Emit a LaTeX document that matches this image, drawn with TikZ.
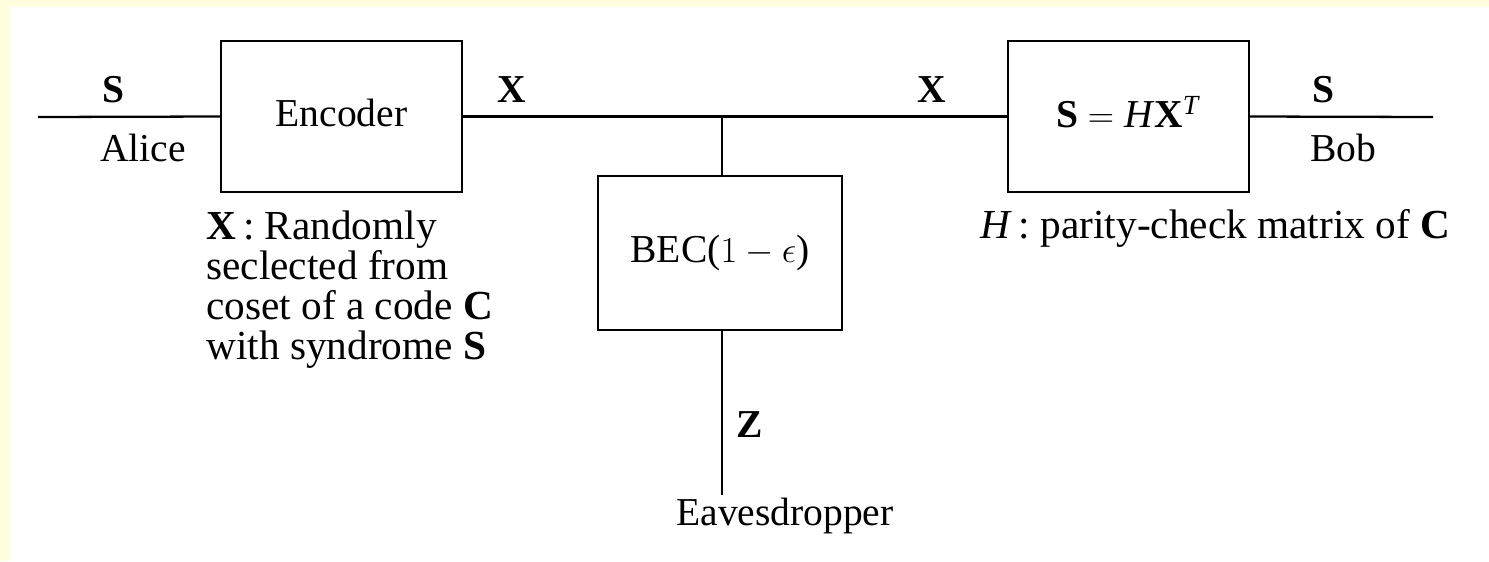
\documentclass[tikz,border=0pt]{standalone}
\usepackage{fontspec}
\setmainfont{Liberation Serif}
\usetikzlibrary{positioning}
\definecolor{pagebg}{HTML}{FFFFE0}

\begin{document}
\begin{tikzpicture}[
        blockbox/.style={draw, line width=1.3pt, minimum width=4.82cm, minimum height=3.02cm,
                         font=\fontsize{22.5}{27}\selectfont},
        lbl/.style={font=\fontsize{22.5}{27}\selectfont, inner sep=0pt},
        note/.style={font=\fontsize{23.5}{22.8}\selectfont, inner sep=0pt, align=left},
        wire/.style={line width=1.3pt}
    ]
        % page and margins
        \useasboundingbox (0,0) rectangle (29.78,-11.22);
        \fill[pagebg] (0,0) rectangle (29.78,-11.22);
        \fill[white] (0.22,-0.14) rectangle (29.78,-11.22);

        % blocks
        \node[blockbox] (enc) at (6.83,-2.33) {Encoder\vphantom{p}};
        \node[blockbox, minimum width=4.88cm, minimum height=3.08cm] (bec) at (14.4,-5.06) {BEC($1-\epsilon$)};
        \node[blockbox] (chk) at (22.57,-2.33) {\textbf{S} $=$ \textit{H}\textbf{X}\textsuperscript{\textit{T}}\vphantom{p}};

        % wire ends
        \coordinate (src) at (0.76,-2.34);
        \coordinate (dst) at (28.66,-2.34);
        \coordinate (tap) at (14.44,-2.34);
        \coordinate (eve) at (14.44,-9.9);

        \draw[wire] (src) -- (enc.west);
        \draw[wire] (enc.east) -- (chk.west);
        \draw[wire] (chk.east) -- (dst);
        \draw[wire] (tap) -- (tap |- bec.north);
        \draw[wire] (eve |- bec.south) -- (eve);

        % labels
        \node[lbl] (sin) at (2.26,-1.8) {\textbf{S}};
        \node[lbl] (alice) at (2.86,-2.96) {Alice};
        \node[lbl] (xa) at (10.24,-1.8) {\textbf{X}};
        \node[lbl] (xb) at (18.64,-1.8) {\textbf{X}};
        \node[lbl] (sout) at (26.46,-1.8) {\textbf{S}};
        \node[lbl] (bob) at (26.86,-2.96) {Bob};
        \node[lbl] (z) at (15.0,-8.5) {\textbf{Z}};
        \node[lbl] (evelbl) at (15.7,-10.32) {Eavesdropper};

        \node[note, anchor=north west] (coset) at (4.12,-4.2)
            {\textbf{X}\,: Randomly\\seclected from\\coset of a code \textbf{C}\\with syndrome \textbf{S}};
        \node[note, anchor=west] (parity) at (19.6,-4.56) {\textit{H}\,: parity-check matrix of \textbf{C}};
    \end{tikzpicture}
\end{document}
